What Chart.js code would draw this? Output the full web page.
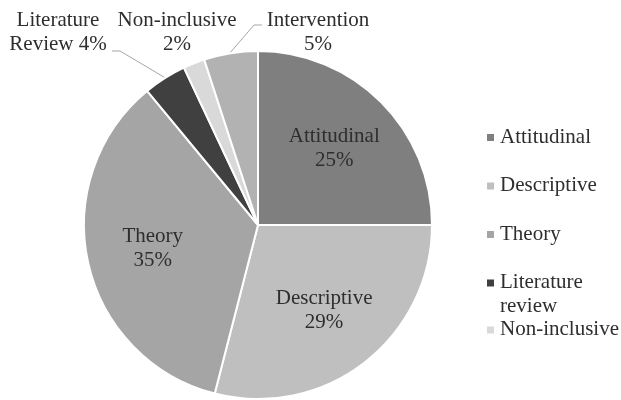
<!DOCTYPE html>
<html>
<head>
<meta charset="utf-8">
<script src="https://cdn.jsdelivr.net/npm/chart.js@4"></script>
<style>
  html, body { margin: 0; padding: 0; background: #fff; }
  #wrap { width: 621px; height: 400px; }
</style>
</head>
<body>
<div id="wrap"><canvas id="myChart"></canvas></div>
<script>
// chart values
const categories = ['Attitudinal', 'Descriptive', 'Theory', 'Literature review', 'Non-inclusive', 'Intervention'];
const shares = [25, 29, 35, 4, 2, 5];
const sliceColors = ['#7f7f7f', '#bfbfbf', '#a5a5a5', '#404040', '#d9d9d9', '#b2b2b2'];
const sliceLabels = [
  ['Attitudinal', '25%'],
  ['Descriptive', '29%'],
  ['Theory', '35%'],
  ['Literature', 'Review 4%'],
  ['Non-inclusive', '2%'],
  ['Intervention', '5%'],
];
const legendLabels = [['Attitudinal'], ['Descriptive'], ['Theory'], ['Literature', 'review'], ['Non-inclusive']];

const FONT = '21px "Liberation Serif", "Times New Roman", serif';
const TEXT = '#2e2e2e';

// where the small slices put their labels (outside, with leader lines)
const outside = {
  3: { x: 58, y: 20, elbow: [120, 51], end: [112, 51] },
  4: { x: 177, y: 20 },
  5: { x: 318, y: 20, elbow: [254, 25], end: [262, 25] },
};

const labelPlugin = {
  id: 'pieLabels',
  afterDraw(chart) {
    const ctx = chart.ctx;
    const meta = chart.getDatasetMeta(0);
    ctx.save();
    ctx.font = FONT;
    ctx.fillStyle = TEXT;
    ctx.textAlign = 'center';
    ctx.textBaseline = 'middle';
    meta.data.forEach((arc, i) => {
      const p = arc.getProps(['x', 'y', 'startAngle', 'endAngle', 'outerRadius'], true);
      const mid = (p.startAngle + p.endAngle) / 2;
      const lines = sliceLabels[i];
      const o = outside[i];
      if (!o) {
        const cx = p.x + Math.cos(mid) * p.outerRadius * 0.62;
        const cy = p.y + Math.sin(mid) * p.outerRadius * 0.62;
        ctx.fillText(lines[0], cx, cy - 12);
        ctx.fillText(lines[1], cx, cy + 12);
      } else {
        ctx.fillText(lines[0], o.x, o.y);
        ctx.fillText(lines[1], o.x, o.y + 24);
        if (o.elbow) {
          const ax = p.x + Math.cos(mid) * (p.outerRadius + 1);
          const ay = p.y + Math.sin(mid) * (p.outerRadius + 1);
          ctx.beginPath();
          ctx.strokeStyle = '#a6a6a6';
          ctx.lineWidth = 1;
          ctx.moveTo(ax, ay);
          ctx.lineTo(o.elbow[0], o.elbow[1]);
          ctx.lineTo(o.end[0], o.end[1]);
          ctx.stroke();
        }
      }
    });

    // legend on the right
    ctx.textAlign = 'left';
    let y = 137;
    legendLabels.forEach((lines, i) => {
      ctx.fillStyle = sliceColors[i];
      ctx.fillRect(487, y - 3, 7, 7);
      ctx.fillStyle = TEXT;
      lines.forEach((t, k) => ctx.fillText(t, 500, y + k * 24));
      y += lines.length > 1 ? 47 : 48.5;
    });
    ctx.restore();
  }
};

const ctx = document.getElementById('myChart').getContext('2d');
const myChart = new Chart(ctx, {
  type: 'pie',
  data: {
    labels: categories,
    datasets: [{
      data: shares,
      backgroundColor: sliceColors,
      borderColor: '#ffffff',
      borderWidth: 2,
    }],
  },
  options: {
    responsive: true,
    maintainAspectRatio: false,
    animation: false,
    layout: { padding: { left: 81, right: 186, top: 50, bottom: -3 } },
    plugins: {
      legend: { display: false },
      tooltip: { enabled: false },
    },
  },
  plugins: [labelPlugin],
});
</script>
</body>
</html>
